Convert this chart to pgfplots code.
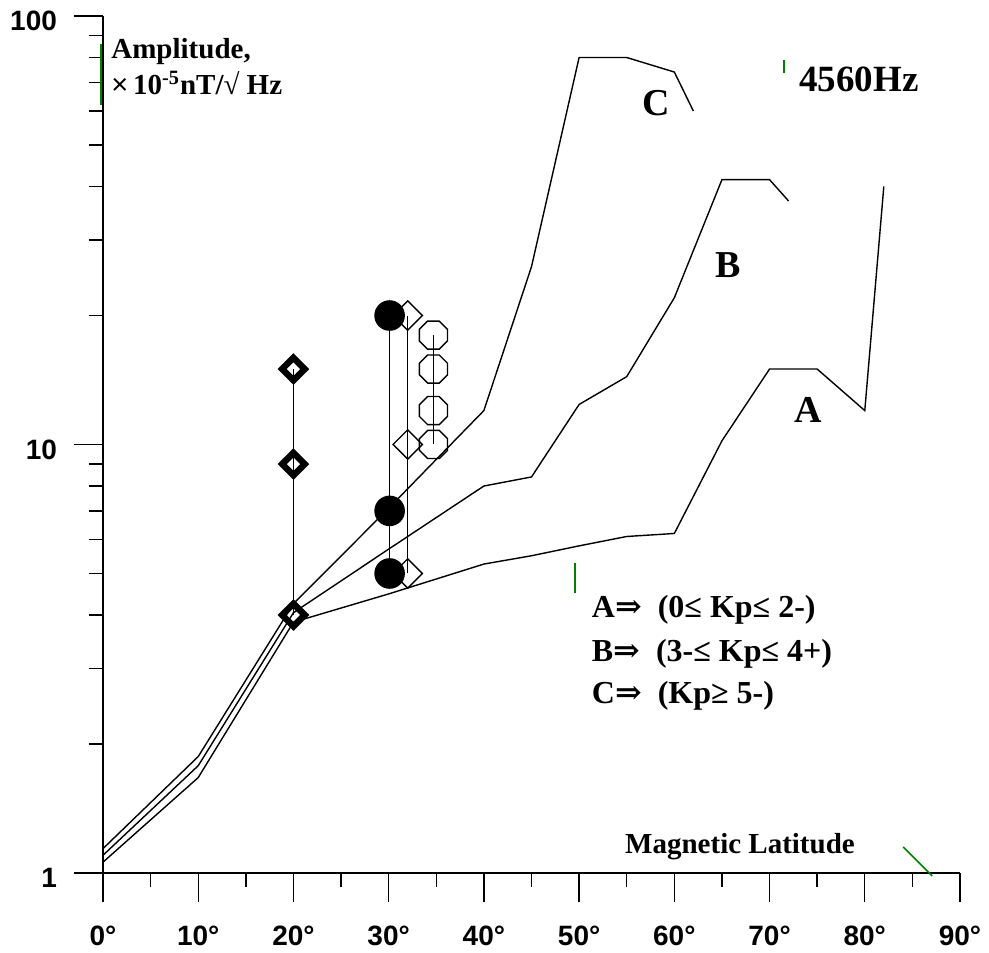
\documentclass[border=0pt]{standalone}
\usepackage{fontspec}
\setmainfont{Liberation Serif}
\newfontfamily\arialfont{Liberation Sans}
\newfontfamily\symfont{DejaVu Serif}
\usepackage{pgfplots}
\pgfplotsset{compat=1.18}
\definecolor{strayg}{RGB}{0,128,0}

% open octagon, flat top and bottom
\pgfdeclareplotmark{octagon}{%
  \pgfpathmoveto{\pgfqpoint{0.9239\pgfplotmarksize}{0.3827\pgfplotmarksize}}%
  \pgfpathlineto{\pgfqpoint{0.3827\pgfplotmarksize}{0.9239\pgfplotmarksize}}%
  \pgfpathlineto{\pgfqpoint{-0.3827\pgfplotmarksize}{0.9239\pgfplotmarksize}}%
  \pgfpathlineto{\pgfqpoint{-0.9239\pgfplotmarksize}{0.3827\pgfplotmarksize}}%
  \pgfpathlineto{\pgfqpoint{-0.9239\pgfplotmarksize}{-0.3827\pgfplotmarksize}}%
  \pgfpathlineto{\pgfqpoint{-0.3827\pgfplotmarksize}{-0.9239\pgfplotmarksize}}%
  \pgfpathlineto{\pgfqpoint{0.3827\pgfplotmarksize}{-0.9239\pgfplotmarksize}}%
  \pgfpathlineto{\pgfqpoint{0.9239\pgfplotmarksize}{-0.3827\pgfplotmarksize}}%
  \pgfpathclose\pgfusepathqstroke}

\begin{document}
\begin{tikzpicture}
\begin{axis}[scale only axis, width=428.5pt, height=428.5pt,
  xmin=0, xmax=90, ymode=log, ymin=1, ymax=100, clip=false,
  axis x line=bottom, axis y line=left, axis line style={-, line width=0.7pt},
  tick align=outside, major tick length=14.5pt, minor tick length=7pt,
  tick style={black, line width=0.7pt},
  xtick={0,10,...,90}, minor xtick={5,15,...,85},
  xticklabels={0°,10°,20°,30°,40°,50°,60°,70°,80°,90°},
  ytick={1,10,100}, yticklabels={1,10,100},
  minor ytick={2,3,4,5,6,7,8,9,20,30,40,50,60,70,80,90},
  tick label style={font=\arialfont\bfseries\fontsize{14}{16}\selectfont},
  /pgf/number format/assume math mode=true,
  xticklabel style={anchor=center, yshift=-17pt},
  yticklabel style={anchor=east, xshift=-5pt, yshift=-2.5pt}]
\coordinate (ll) at (rel axis cs:0,0);

% curve A
\addplot[black, line width=0.7pt, mark=none] coordinates {
(0,1.06) (10,1.67) (20,3.85) (30,4.48) (40,5.26) (45,5.5) (50,5.8) (55,6.1) (60,6.2)
(65,10.2) (70,15) (75,15) (80,12) (82,40)};
% curve B
\addplot[black, line width=0.7pt, mark=none] coordinates {
(0,1.10) (10,1.78) (20,4.05) (30,5.7) (40,8.0) (45,8.4) (50,12.4) (55,14.4) (60,22)
(65,41.5) (70,41.5) (72,37)};
% curve C
\addplot[black, line width=0.7pt, mark=none] coordinates {
(0,1.14) (10,1.87) (20,4.25) (30,7.1) (40,12) (45,26) (50,80) (55,80) (60,74) (62,60)};

% measured points
\addplot[black, line width=0.7pt, mark=square, mark size=4pt,
  mark options={rotate=45, line width=3.2pt}] coordinates {(20,4) (20,9) (20,15)};
\addplot[black, line width=0.7pt, mark=*, mark size=7.3pt,
  mark options={fill=black}] coordinates {(30.1,5) (30.1,7) (30.1,20)};
\addplot[black, line width=0.7pt, mark=square, mark size=5.2pt,
  mark options={rotate=45, line width=0.7pt}] coordinates {(32,5) (32,10) (32,20)};
\addplot[black, line width=0.7pt, mark=octagon, mark size=7.6pt,
  mark options={line width=0.7pt}] coordinates {(34.7,10) (34.7,12) (34.7,15) (34.7,18)};

% labels
\node[anchor=base west, font=\bfseries\fontsize{14.5}{16}\selectfont] at (axis cs:0.14,79.8) {Amplitude,};
\node[anchor=base west, font=\bfseries\fontsize{14.5}{16}\selectfont] at (axis cs:0.14,65.6)
  {{\arialfont\mdseries ×}\,10\textsuperscript{-5}nT/√ Hz};
\node[anchor=base west, font=\bfseries\fontsize{18.5}{20}\selectfont] at (axis cs:72.4,66.5) {4560Hz};
\node[font=\bfseries\fontsize{19}{21}\selectfont] at (axis cs:58.1,62.7) {C};
\node[font=\bfseries\fontsize{19}{21}\selectfont] at (axis cs:65.7,26.2) {B};
\node[font=\bfseries\fontsize{19}{21}\selectfont] at (axis cs:74.05,12.04) {A};
\node[anchor=base west, font=\bfseries\fontsize{16}{18}\selectfont] at (axis cs:50.6,3.94)
  {A{\symfont ⇒}\ \ (0≤ Kp≤ 2-)};
\node[anchor=base west, font=\bfseries\fontsize{16}{18}\selectfont] at (axis cs:50.6,3.12)
  {B{\symfont ⇒}\ \ (3-≤ Kp≤ 4+)};
\node[anchor=base west, font=\bfseries\fontsize{16}{18}\selectfont] at (axis cs:50.6,2.49)
  {C{\symfont ⇒}\ \ (Kp≥ 5-)};
\node[anchor=base west, font=\bfseries\fontsize{14.5}{16}\selectfont] at (axis cs:54.1,1.113) {Magnetic Latitude};

% stray green strokes of the original
\draw[strayg, line width=0.8pt] (axis cs:-0.2,86) -- (axis cs:-0.2,62);
\draw[strayg, line width=0.8pt] (axis cs:71.5,78.9) -- (axis cs:71.5,73.6);
\draw[strayg, line width=0.8pt] (axis cs:49.58,5.29) -- (axis cs:49.58,4.5);
\draw[strayg, line width=0.8pt] (axis cs:84.03,1.15) -- (axis cs:87.08,0.984);
\end{axis}
\pgfresetboundingbox
\path (ll) ++(-51.5pt,-39.5pt) rectangle ++(494.5pt,476pt);
\end{tikzpicture}
\end{document}
